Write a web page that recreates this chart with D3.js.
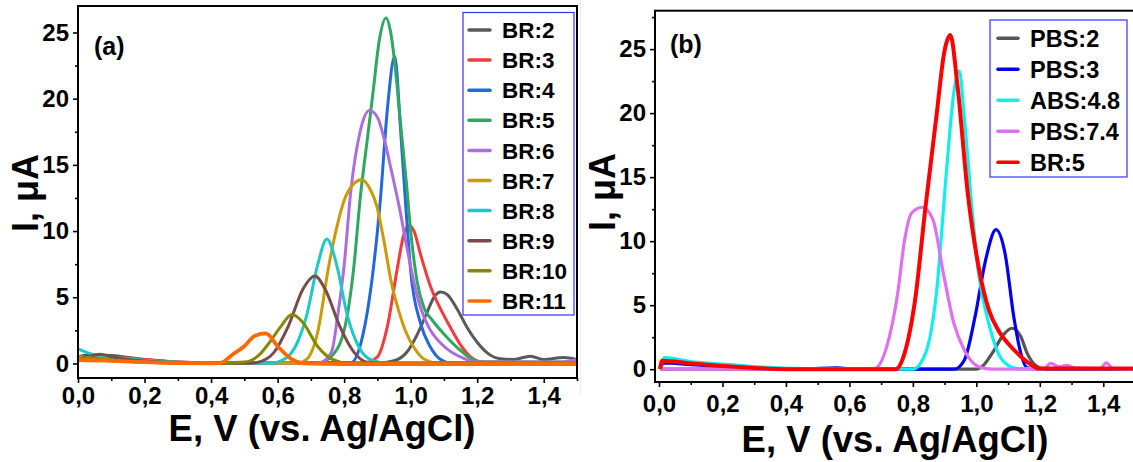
<!DOCTYPE html>
<html>
<head>
<meta charset="utf-8">
<script src="https://cdn.jsdelivr.net/npm/d3@7"></script>
<style>
  body { margin: 0; background: #fff; }
  svg { display: block; font-family: "Liberation Sans", Arial, sans-serif; font-weight: bold; }
</style>
</head>
<body>
<div id="chart"></div>
<script>
// ---- panel (a): BR buffer, pH 2..11  (E in V, I in uA) ----
const namesA = ['BR:2', 'BR:3', 'BR:4', 'BR:5', 'BR:6', 'BR:7', 'BR:8', 'BR:9', 'BR:10', 'BR:11'];
const colorsA = ['#595959', '#f23c3c', '#2468dc', '#2fa760', '#ad6edd', '#cc9a06', '#1ec8c8', '#7b4b4b', '#888800', '#ff6a00'];

const br2 = [[0,0.5],[0.04,0.65],[0.1,0.6],[0.2,0.3],[0.3,0.1],[0.4,0.03],[0.9,0.03],[0.95,0.2],[0.99,0.9],[1.02,2.2],[1.05,3.9],[1.07,5.0],[1.09,5.4],[1.11,5.2],[1.14,4.1],[1.17,2.7],[1.2,1.6],[1.23,0.8],[1.27,0.35],[1.31,0.3],[1.36,0.55],[1.4,0.3],[1.46,0.45],[1.5,0.3]];
const br3 = [[0,0.4],[0.1,0.45],[0.2,0.3],[0.3,0.1],[0.45,0.02],[0.86,0.02],[0.9,0.5],[0.93,2.8],[0.96,7.2],[0.98,9.8],[0.995,10.4],[1.01,10.0],[1.03,8.2],[1.06,5.8],[1.09,4.1],[1.12,2.7],[1.15,1.4],[1.18,0.5],[1.22,0.1],[1.5,0.05]];
const br4 = [[0,0.3],[0.1,0.3],[0.2,0.15],[0.3,0.05],[0.82,0.05],[0.85,1.5],[0.876,4.9],[0.909,12.4],[0.93,19.2],[0.952,23.2],[0.97,17.5],[0.985,12],[1.0,7.0],[1.03,3.0],[1.06,1.2],[1.09,0.3],[1.12,0.05],[1.5,0.05]];
const br5 = [[0,0.3],[0.1,0.35],[0.2,0.2],[0.3,0.05],[0.72,0.02],[0.76,0.5],[0.8,2.5],[0.83,7.5],[0.848,12.4],[0.87,17],[0.887,20.5],[0.905,24.3],[0.926,26.1],[0.94,25],[0.953,22.5],[0.97,18],[0.987,13.7],[1.0,10],[1.02,6.1],[1.04,4.2],[1.064,3.3],[1.097,2.3],[1.14,1.2],[1.186,0.3],[1.22,0.1],[1.5,0.1]];
const br6 = [[0,0.3],[0.1,0.3],[0.2,0.15],[0.3,0.05],[0.72,0.02],[0.75,0.4],[0.765,1.1],[0.78,3.5],[0.8,7.4],[0.82,13.0],[0.848,17.5],[0.876,19.1],[0.9,18.6],[0.92,17],[0.94,14.8],[0.965,11.9],[0.99,8.6],[1.01,6.1],[1.03,4.2],[1.053,2.8],[1.1,1.3],[1.153,0.45],[1.2,0.1],[1.45,0.1],[1.5,0.3]];
const br7 = [[0,0.5],[0.05,0.4],[0.1,0.3],[0.2,0.1],[0.3,0.03],[0.66,0.02],[0.687,0.3],[0.72,2.3],[0.754,7.4],[0.78,10.5],[0.8,12.3],[0.83,13.6],[0.854,13.9],[0.875,13.3],[0.898,11.9],[0.92,9.2],[0.942,6.1],[0.965,3.9],[0.987,2.3],[1.01,1.2],[1.042,0.3],[1.08,0.05],[1.5,0.05]];
const br8 = [[0,1.1],[0.03,0.8],[0.08,0.55],[0.15,0.35],[0.25,0.15],[0.35,0.05],[0.58,0.02],[0.61,0.2],[0.654,1.3],[0.687,3.6],[0.72,7.4],[0.748,9.4],[0.776,7.6],[0.81,3.6],[0.843,1.3],[0.887,0.2],[0.93,0.03],[1.5,0.03]];
const br9 = [[0,0.3],[0.03,0.5],[0.065,0.7],[0.1,0.5],[0.15,0.3],[0.25,0.1],[0.35,0.03],[0.52,0.02],[0.543,0.1],[0.588,0.8],[0.632,2.8],[0.676,5.6],[0.712,6.6],[0.743,5.6],[0.787,2.8],[0.831,0.8],[0.87,0.1],[0.92,0.02],[1.5,0.02]];
const br10 = [[0,0.3],[0.03,0.45],[0.06,0.35],[0.12,0.2],[0.25,0.05],[0.42,0.02],[0.5,0.1],[0.543,0.6],[0.576,1.6],[0.61,2.8],[0.643,3.7],[0.676,3.1],[0.72,1.3],[0.765,0.3],[0.81,0.03],[1.5,0.03]];
const br11 = [[0,0.25],[0.1,0.2],[0.2,0.1],[0.3,0.02],[0.41,0.0],[0.432,0.07],[0.466,0.7],[0.5,1.3],[0.532,2.1],[0.565,2.27],[0.6,1.3],[0.643,0.3],[0.68,0.0],[0.8,-0.05],[1.5,-0.05]];
const seriesA = [br2, br3, br4, br5, br6, br7, br8, br9, br10, br11];

// ---- panel (b): other buffers vs BR:5 ----
const namesB = ['PBS:2', 'PBS:3', 'ABS:4.8', 'PBS:7.4', 'BR:5'];
const colorsB = ['#555555', '#0000ee', '#11eeee', '#e070f0', '#ff0000'];

const pbs2 = [[0.005,0],[0.3,0],[0.6,0.02],[1.0,0],[1.018,0.2],[1.05,1.25],[1.086,2.7],[1.112,3.2],[1.14,2.55],[1.16,1.25],[1.184,0.35],[1.21,0.05],[1.5,0.05]];
const pbs3 = [[0.005,0.1],[0.015,0.5],[0.1,0.35],[0.2,0.2],[0.3,0.1],[0.45,0.02],[0.56,0.1],[0.62,0.0],[0.93,0.0],[0.962,0.7],[0.996,4.1],[1.029,8.5],[1.062,10.9],[1.09,9.1],[1.118,4.1],[1.14,1.25],[1.16,0.1],[1.2,0.0],[1.5,0.0]];
const abs48 = [[0.005,0.1],[0.018,0.9],[0.1,0.6],[0.2,0.4],[0.3,0.2],[0.45,0.05],[0.8,0.0],[0.84,1.25],[0.874,5.9],[0.907,15.8],[0.929,21.6],[0.946,23.3],[0.962,19.7],[0.984,13.2],[1.007,7.5],[1.04,3.5],[1.07,1.2],[1.1,0.3],[1.13,0.05],[1.5,0.05]];
const pbs74 = [[0.005,0],[0.3,0],[0.67,0.0],[0.685,0.1],[0.718,1.8],[0.752,5.9],[0.774,10.1],[0.796,12.2],[0.83,12.65],[0.863,11.7],[0.896,7.5],[0.929,3.6],[0.962,1.5],[1.007,0.2],[1.05,0.0],[1.21,0.0],[1.235,0.45],[1.26,0.2],[1.285,0.3],[1.31,0.1],[1.39,0.05],[1.41,0.5],[1.43,0.05],[1.5,0.0]];
const brB5 = [[0.003,0],[0.01,0.65],[0.1,0.45],[0.2,0.25],[0.3,0.1],[0.4,0.0],[0.746,0.0],[0.774,1.25],[0.807,5.4],[0.84,12.7],[0.874,19.7],[0.9,24.9],[0.918,26.1],[0.94,22.3],[0.973,13.75],[1.007,8.0],[1.04,4.6],[1.07,3.0],[1.1,2.0],[1.14,1.0],[1.17,0.4],[1.2,0.05],[1.5,0.05]];
const seriesB = [pbs2, pbs3, abs48, pbs74, brB5];

// ---- ticks ----
const xMajor = [0, 0.2, 0.4, 0.6, 0.8, 1.0, 1.2, 1.4];
const xMinor = [0.1, 0.3, 0.5, 0.7, 0.9, 1.1, 1.3, 1.5];
const yMajor = [0, 5, 10, 15, 20, 25];
const yMinor = [2.5, 7.5, 12.5, 17.5, 22.5, 27.5];

const width = 1133, height = 462;
const svg = d3.select('#chart').append('svg')
  .attr('width', width)
  .attr('height', height);

svg.append('rect').attr('width', width).attr('height', height).attr('fill', '#fff');
// faint seam between the two figures
svg.append('line')
  .attr('x1', 580.5).attr('x2', 580.5).attr('y1', 0).attr('y2', 395)
  .attr('stroke', '#eeeeee').attr('stroke-width', 1);

const comma = d => d3.format('.1f')(d).replace('.', ',');

function panel(o) {
  const x = d3.scaleLinear().domain(o.xDomain).range([o.left, o.right]);
  const y = d3.scaleLinear().domain(o.yDomain).range([o.bottom, o.top]);
  const g = svg.append('g');

  const clipId = 'clip-' + o.id;
  g.append('clipPath').attr('id', clipId)
    .append('rect')
      .attr('x', o.left).attr('y', o.top)
      .attr('width', o.right - o.left).attr('height', o.bottom - o.top);

  const line = d3.line()
    .x(d => x(d[0]))
    .y(d => y(d[1]))
    .curve(d3.curveMonotoneX);

  g.append('g').attr('clip-path', `url(#${clipId})`)
    .selectAll('path')
    .data(o.series)
    .join('path')
      .attr('fill', 'none')
      .attr('stroke', (d, i) => o.colors[i])
      .attr('stroke-width', (d, i) => o.widths[i])
      .attr('stroke-linejoin', 'round')
      .attr('d', line);

  // axes
  g.append('g').attr('transform', `translate(0,${o.bottom})`)
    .call(d3.axisBottom(x).tickValues(xMajor).tickFormat(comma).tickSize(5).tickPadding(o.xPad));
  g.append('g').attr('transform', `translate(0,${o.bottom})`)
    .call(d3.axisBottom(x).tickValues(xMinor.filter(v => v <= o.xDomain[1])).tickFormat('').tickSize(3));
  g.append('g').attr('transform', `translate(${o.left},0)`)
    .call(d3.axisLeft(y).tickValues(yMajor).tickSize(5).tickPadding(4));
  g.append('g').attr('transform', `translate(${o.left},0)`)
    .call(d3.axisLeft(y).tickValues(yMinor.filter(v => v <= o.yDomain[1])).tickFormat('').tickSize(3));

  g.selectAll('.domain').remove();
  g.selectAll('.tick line').attr('stroke', '#000').attr('stroke-width', 1.6);
  g.selectAll('.tick text')
    .attr('fill', '#000')
    .attr('font-size', 24)
    .attr('font-weight', 'bold')
    .attr('font-family', '"Liberation Sans", Arial, sans-serif');

  // frame
  g.append('rect')
    .attr('x', o.left).attr('y', o.top)
    .attr('width', o.right - o.left).attr('height', o.bottom - o.top)
    .attr('fill', 'none').attr('stroke', '#000').attr('stroke-width', 2);

  // titles
  g.append('text')
    .attr('x', o.xTitle[0]).attr('y', o.xTitle[1])
    .attr('text-anchor', 'middle')
    .attr('font-size', 36.5)
    .text('E, V (vs. Ag/AgCl)');
  g.append('text')
    .attr('transform', `translate(${o.yTitle[0]},${o.yTitle[1]}) rotate(-90)`)
    .attr('text-anchor', 'middle')
    .attr('font-size', 36)
    .text('I, μA');
  g.append('text')
    .attr('x', o.tagPos[0]).attr('y', o.tagPos[1])
    .attr('font-size', 25)
    .text(o.tag);

  // legend
  const L = o.legend;
  g.append('rect')
    .attr('x', L.x).attr('y', L.y).attr('width', L.w).attr('height', L.h)
    .attr('fill', '#fff').attr('stroke', '#3333ff').attr('stroke-width', 1.2);
  const items = g.append('g').selectAll('g')
    .data(o.names)
    .join('g')
      .attr('transform', (d, i) => `translate(0,${L.first + i * L.step})`);
  items.append('line')
    .attr('x1', L.lx1).attr('x2', L.lx2)
    .attr('stroke', (d, i) => o.colors[i])
    .attr('stroke-width', 3.5)
    .attr('stroke-linecap', 'round');
  items.append('text')
    .attr('x', L.tx).attr('dy', '0.36em')
    .attr('font-size', L.size)
    .text(d => d);
}

panel({
  id: 'a', tag: '(a)',
  series: seriesA, names: namesA, colors: colorsA,
  widths: [3, 3, 3, 3, 3, 3, 3, 3, 3, 3.8],
  xDomain: [0, 1.5], yDomain: [-1.1, 27],
  left: 78, right: 577, top: 6, bottom: 378,
  xPad: 4,
  xTitle: [322, 441], yTitle: [38, 193], tagPos: [94, 55],
  legend: { x: 463, y: 12.5, w: 111, h: 302.5, first: 30, step: 30.1, lx1: 469, lx2: 490, tx: 502, size: 22.5 }
});

panel({
  id: 'b', tag: '(b)',
  series: seriesB, names: namesB, colors: colorsB,
  widths: [3.2, 3.2, 3.2, 3.2, 4],
  xDomain: [-0.0126, 1.5], yDomain: [-1, 28],
  left: 655, right: 1135, top: 10.7, bottom: 382,
  xPad: 8,
  xTitle: [895, 452], yTitle: [615, 192], tagPos: [670, 53],
  legend: { x: 990, y: 20, w: 137, h: 157, first: 38.3, step: 31, lx1: 998, lx2: 1018, tx: 1030, size: 23.5 }
});
</script>
</body>
</html>
